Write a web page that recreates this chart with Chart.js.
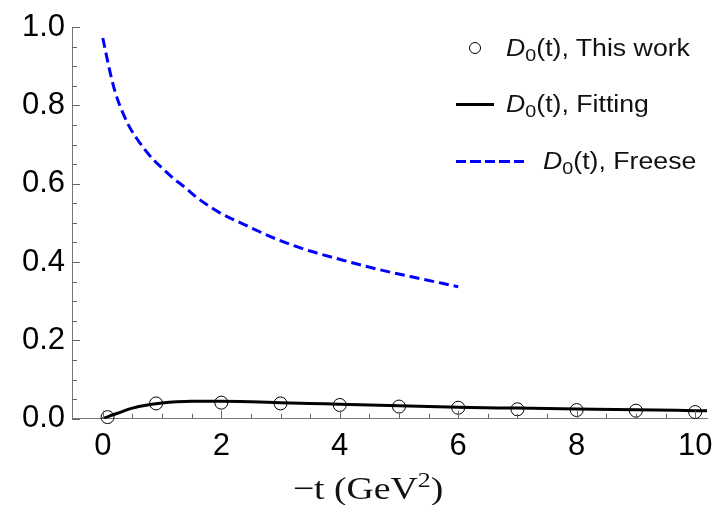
<!DOCTYPE html>
<html>
<head>
<meta charset="utf-8">
<script src="https://cdn.jsdelivr.net/npm/chart.js@4/dist/chart.umd.min.js"></script>
<style>
html,body{margin:0;padding:0;background:#fff;}
#wrap{position:relative;width:715px;height:505px;}
#legend{position:absolute;left:456px;top:20px;font-family:"Liberation Sans",Arial,sans-serif;font-size:23px;color:#111;}
.row{display:flex;align-items:center;height:56.5px;white-space:nowrap;}
.sym{flex:none;display:flex;align-items:center;justify-content:center;height:20px;}
.txt{display:inline-block;transform:scaleX(1.16);transform-origin:left center;}
.txt sub{font-size:17px;vertical-align:-5px;line-height:0;}
#xtitle{position:absolute;left:168px;width:400px;top:472px;text-align:center;font-family:"Liberation Serif","Times New Roman",serif;font-size:32px;line-height:1;color:#111;transform:scaleX(1.18);transform-origin:center;white-space:nowrap;}
#xtitle sup{font-size:22px;vertical-align:12px;line-height:0;}
</style>
</head>
<body>
<div id="wrap">
<canvas id="c" width="715" height="505"></canvas>
<div id="legend"></div>
<div id="xtitle">−t (GeV<sup>2</sup>)</div>
</div>
<script>
// ---- data ----
const xMajorTicks = [0, 2, 4, 6, 8, 10];
const yMajorTicks = [0, 0.2, 0.4, 0.6, 0.8, 1.0];
const seriesNames = ['This work', 'Fitting', 'Freese'];

const thisWorkT = [0.08, 0.9, 2, 3, 4, 5, 6, 7, 8, 9, 10];
const thisWorkD = [0.004, 0.039, 0.041, 0.039, 0.035, 0.031, 0.028, 0.024, 0.022, 0.0205, 0.017];

const fitT = [0, 0.1, 0.25, 0.5, 0.75, 1, 1.25, 1.5, 2, 2.5, 3, 3.5, 4, 5, 6, 7, 8, 9, 10, 10.2];
const fitD = [0, 0.006, 0.014, 0.027, 0.035, 0.040, 0.043, 0.0445, 0.0448, 0.0435, 0.041, 0.039, 0.037, 0.033, 0.029, 0.027, 0.025, 0.023, 0.0205, 0.020];

const freeseT = [0, 0.1, 0.175, 0.25, 0.34, 0.45, 0.57, 0.7, 0.85, 1.0, 1.19, 1.4, 1.585, 1.95, 2.37, 2.94, 3.5, 4.07, 4.63, 5.19, 6.0];
const freeseD = [0.972, 0.90, 0.852, 0.815, 0.78, 0.745, 0.716, 0.689, 0.662, 0.640, 0.614, 0.589, 0.565, 0.528, 0.497, 0.458, 0.428, 0.404, 0.382, 0.363, 0.337];

const pts = (xs, ys) => xs.map((x, i) => ({x: x, y: ys[i]}));

const TICK_COLOR = '#666';
const inwardTicks = {
  id: 'inwardTicks',
  afterDraw(chart) {
    const {ctx, chartArea, scales} = chart;
    const xs = scales.x, ys = scales.y;
    ctx.save();
    ctx.strokeStyle = TICK_COLOR;
    ctx.lineWidth = 1;
    ctx.beginPath();
    // x ticks every 0.5, major every 2
    for (let i = 0; i * 0.5 <= xs.max + 1e-9; i++) {
      const px = Math.round(xs.getPixelForValue(i * 0.5)) + 0.5;
      const len = (i % 4 === 0) ? 8 : 5;
      ctx.moveTo(px, chartArea.bottom);
      ctx.lineTo(px, chartArea.bottom - len);
    }
    // y ticks every 0.05, major every 0.2
    for (let i = 0; i <= 20; i++) {
      const py = Math.round(ys.getPixelForValue(i * 0.05)) + 0.5;
      const len = (i % 4 === 0) ? 8 : 5;
      ctx.moveTo(chartArea.left, py);
      ctx.lineTo(chartArea.left + len, py);
    }
    ctx.stroke();
    ctx.restore();
  }
};

const tickFont = {family: '"Liberation Sans", Arial, sans-serif', size: 31};

new Chart(document.getElementById('c'), {
  type: 'scatter',
  data: {
    datasets: [
      {
        label: 'D0(t), ' + seriesNames[1],
        data: pts(fitT, fitD),
        showLine: true,
        borderColor: '#000',
        borderWidth: 3,
        pointRadius: 0,
        cubicInterpolationMode: 'monotone',
        fill: false
      },
      {
        label: 'D0(t), ' + seriesNames[2],
        data: pts(freeseT, freeseD),
        showLine: true,
        borderColor: '#0000ff',
        borderWidth: 3,
        borderDash: [10, 5],
        pointRadius: 0,
        cubicInterpolationMode: 'monotone',
        fill: false
      },
      {
        label: 'D0(t), ' + seriesNames[0],
        data: pts(thisWorkT, thisWorkD),
        showLine: false,
        pointStyle: 'circle',
        pointRadius: 6.5,
        pointHoverRadius: 6.5,
        borderColor: '#000',
        borderWidth: 1,
        backgroundColor: 'rgba(0,0,0,0)',
        clip: false
      }
    ]
  },
  options: {
    responsive: false,
    animation: false,
    devicePixelRatio: 1,
    events: [],
    layout: {padding: {top: 27, right: 8, left: 0, bottom: 0}},
    plugins: {legend: {display: false}, tooltip: {enabled: false}},
    scales: {
      x: {
        type: 'linear',
        min: -0.52,
        max: 10.2,
        afterBuildTicks(s) { s.ticks = xMajorTicks.map(v => ({value: v})); },
        afterFit(s) { s.height = 86.3; s.paddingRight = 0; s.paddingLeft = 0; },
        grid: {display: false, drawTicks: false},
        border: {display: true, color: '#777', width: 1},
        ticks: {font: tickFont, color: '#000', padding: 9, maxRotation: 0, autoSkip: false,
                callback: v => String(v)}
      },
      y: {
        type: 'linear',
        min: 0,
        max: 1,
        afterBuildTicks(s) { s.ticks = yMajorTicks.map(v => ({value: v})); },
        afterFit(s) { s.width = 72; },
        grid: {display: false, drawTicks: false},
        border: {display: true, color: '#777', width: 1},
        ticks: {font: tickFont, color: '#000', padding: 7, autoSkip: false,
                callback: v => Number(v).toFixed(1)}
      }
    }
  },
  plugins: [inwardTicks]
});

// ---- HTML legend built from the series names ----
const legendSymbols = [
  '<span style="display:block;width:10px;height:10px;border:1px solid #000;border-radius:50%;"></span>',
  '<span style="display:block;width:38px;height:3px;background:#000;"></span>',
  '<span style="display:block;width:71px;height:3px;background:repeating-linear-gradient(to right,#0000ff 0 10px,transparent 10px 14.5px);"></span>'
];
const legendSymWidth = [38, 38, 71];
const legendGap = [12, 12, 16];
const legendEl = document.getElementById('legend');
seriesNames.forEach((name, i) => {
  const row = document.createElement('div');
  row.className = 'row';
  row.innerHTML = '<span class="sym" style="width:' + legendSymWidth[i] + 'px;margin-right:' + legendGap[i] + 'px">' +
    legendSymbols[i] + '</span><span class="txt"><i>D</i><sub>0</sub>(t), ' + name + '</span>';
  legendEl.appendChild(row);
});
</script>
</body>
</html>
